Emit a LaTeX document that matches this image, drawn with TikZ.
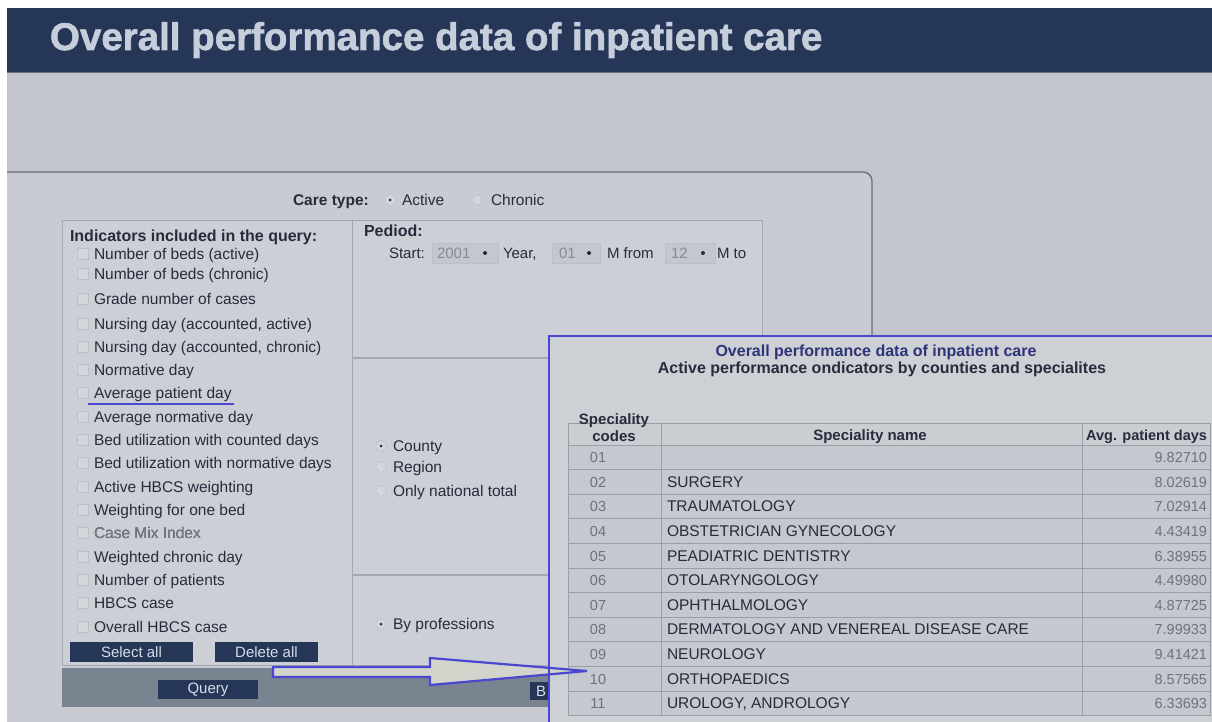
\documentclass[tikz,border=0pt]{standalone}
\usepackage{fontspec}
\setmainfont{Liberation Sans}
\newfontfamily\heavyfont[FakeBold=1.6]{Liberation Sans Bold}
\usetikzlibrary{calc}
\newcommand{\fsz}[1]{\fontsize{#1}{#1}\selectfont}
\definecolor{navy}{HTML}{253656}
\definecolor{titlefg}{HTML}{C6CDDB}
\definecolor{bggray}{HTML}{C2C5CC}
\definecolor{panelgray}{HTML}{C8CBD1}
\definecolor{boxgray}{HTML}{CCCFD5}
\definecolor{boxline}{HTML}{A4A8AF}
\definecolor{tablepanel}{HTML}{CDD0D4}
\definecolor{rowgray}{HTML}{C5C8CE}
\definecolor{headgray}{HTML}{CACDD2}
\definecolor{linegray}{HTML}{9A9EA6}
\definecolor{darkline}{HTML}{6A6F78}
\definecolor{txt}{HTML}{262C3C}
\definecolor{codegray}{HTML}{6C737E}
\definecolor{lighttxt}{HTML}{7A808A}
\definecolor{btnfg}{HTML}{D6DCE8}
\definecolor{barfill}{HTML}{7A8390}
\definecolor{hiblue}{HTML}{4A48D0}
\definecolor{arrowfill}{HTML}{D3D4CB}
\definecolor{ttlblue}{HTML}{2F3478}
\definecolor{chkfill}{HTML}{D3D5DA}
\definecolor{chkdraw}{HTML}{BCBFC5}
\definecolor{ddfill}{HTML}{C4C7CD}
\definecolor{ddtext}{HTML}{858B94}
\begin{document}
\begin{tikzpicture}[x=1pt,y=-1pt,
  every node/.style={inner sep=0pt,outer sep=0pt},
  body/.style={anchor=base west,text=txt,font=\fsz{15.5}},
  boldlbl/.style={anchor=base west,text=txt,font=\fsz{16}\bfseries},
  chk/.style={fill=chkfill,draw=chkdraw,line width=0.6pt},
  radio/.style={circle,fill=chkfill,draw=chkdraw,line width=0.6pt,minimum size=11pt},
  seldot/.style={circle,fill=txt,minimum size=4pt},
  btn/.style={fill=navy,text=btnfg,font=\fsz{15}},
  dd/.style={fill=ddfill,draw=chkdraw,line width=0.5pt},
  ddtxt/.style={anchor=base west,text=ddtext,font=\fsz{15}},
  grid/.style={draw=linegray,line width=0.8pt},
  code/.style={anchor=base,text=codegray,font=\fsz{14.5}},
  sname/.style={anchor=base west,text=txt,font=\fsz{15.5}},
  sval/.style={anchor=base east,text=codegray,font=\fsz{14.5}},
  thead/.style={text=txt,font=\fsz{15}\bfseries},
  bigarrow/.style={fill=arrowfill,draw=hiblue,line width=2.2pt,line join=miter},
]
\useasboundingbox (0,0) rectangle (1212,722);
\fill[white] (0,0) rectangle (1212,722);
% header
\fill[bggray] (7,72) rectangle (1212,722);
\fill[navy] (7,8) rectangle (1212,72);
\draw[darkline,line width=1pt] (7,72.5) -- (1212,72.5);
\node[anchor=base west,text=titlefg,font=\fsz{38.5}\heavyfont] (title) at (50,50) {Overall performance data of inpatient care};

% main form panel
\fill[panelgray] (7,172) [rounded corners=9] -- (872,172) [sharp corners] -- (872,722) -- (7,722) -- cycle;
\draw[darkline,line width=1.4pt] (7,172) [rounded corners=9] -- (872,172) [sharp corners] -- (872,722);

% care type
\node[boldlbl,font=\fsz{15.5}\bfseries] (caretype) at (293,205) {Care type:};
\node[radio] (rActive) at (390,200) {};
\node[seldot,minimum size=3pt] at (rActive) {};
\node[body] (active) at (402,205) {Active};
\node[radio] (rChronic) at (477,200) {};
\node[body] (chronic) at (491,205) {Chronic};

% indicator box and middle box
\draw[fill=boxgray,draw=boxline,line width=0.8pt] (62,220) rectangle (352,665);
\draw[fill=boxgray,draw=boxline,line width=0.8pt] (352,220) rectangle (762,665);
\draw[boxline,line width=1.2pt] (352,358) -- (762,358);
\draw[boxline,line width=1.2pt] (352,575) -- (762,575);

\node[boldlbl] (indhead) at (70,241) {Indicators included in the query:};
\foreach \t/\yy [count=\i] in {
  {Number of beds (active)}/254,
  {Number of beds (chronic)}/274,
  {Grade number of cases}/299,
  {Nursing day (accounted, active)}/324,
  {Nursing day (accounted, chronic)}/347,
  {Normative day}/370,
  {Average patient day}/393,
  {Average normative day}/417,
  {Bed utilization with counted days}/440,
  {Bed utilization with normative days}/463,
  {Active HBCS weighting}/487,
  {Weighting for one bed}/510,
  {Case Mix Index}/533,
  {Weighted chronic day}/557,
  {Number of patients}/580,
  {HBCS case}/603,
  {Overall HBCS case}/627}{
  \draw[chk] (77,\yy-5.5) rectangle (88,\yy+5.5);
  \node[body] (item\i) at (94,\yy+5.5) {\t};
}
\node[body,text=lighttxt] at (item13.base west) {Case Mix Index};
\draw[hiblue,line width=2pt] ($(item7.base west)+(-6,5)$) -- ($(item7.base east)+(2,5)$);

% buttons
\node[btn,minimum width=123pt,minimum height=20pt] (selall) at (131.5,652) {Select all};
\node[btn,minimum width=103pt,minimum height=20pt] (delall) at (266.5,652) {Delete all};

% period
\node[boldlbl] (period) at (364,236) {Pediod:};
\node[body,font=\fsz{15}] (start) at (389,258) {Start:};
\draw[dd] (432,243) rectangle (498,263);
\node[ddtxt] (yr) at (437,258) {2001};
\fill[txt] (485,253) circle (2pt);
\node[body,font=\fsz{15}] (year) at (503,258) {Year,};
\draw[dd] (552,243) rectangle (600,263);
\node[ddtxt] (mfrom) at (559,258) {01};
\fill[txt] (589,253) circle (2pt);
\node[body,font=\fsz{15}] (mfromlbl) at (607,258) {M from};
\draw[dd] (665,243) rectangle (715,263);
\node[ddtxt] (mto) at (671,258) {12};
\fill[txt] (703,253) circle (2pt);
\node[body,font=\fsz{15}] (mtolbl) at (717,258) {M to};

% grouping
\node[radio] (rCounty) at (381,446) {};
\node[seldot,minimum size=3pt] at (rCounty) {};
\node[body] (county) at (393,451.5) {County};
\node[radio] (rRegion) at (381,467) {};
\node[body] (region) at (393,472.5) {Region};
\node[radio] (rNat) at (381,491) {};
\node[body] (national) at (393,496.5) {Only national total};
\node[radio] (rProf) at (381,624) {};
\node[seldot,minimum size=3pt] at (rProf) {};
\node[body] (prof) at (393,629.5) {By professions};

% bottom bar
\fill[barfill] (62,668) rectangle (560,707);
\node[btn,minimum width=100pt,minimum height=19pt] (query) at (208,689.5) {Query};
\node[btn,minimum width=30pt,minimum height=18pt,text width=30pt,align=left] (bbtn) at (545,691) {\hspace{6pt}B};

% result table panel
\fill[tablepanel] (549,336) rectangle (1212,722);
\node[anchor=base,text=ttlblue,font=\fsz{16}\bfseries] (ttl1) at (876,356) {Overall performance data of inpatient care};
\node[anchor=base,text=txt,font=\fsz{16}\bfseries] (ttl2) at (882,373) {Active performance ondicators by counties and specialites};

\fill[headgray] (568,423) rectangle (1210,445);
\fill[rowgray] (568,445) rectangle (1210,715.6);
\foreach \k in {0,...,11} {
  \draw[grid] (568,445+\k*24.6) -- (1210,445+\k*24.6);
}
\draw[grid] (568,423) -- (1210,423);
\foreach \xx in {568,661,1082,1210} {
  \draw[grid] (\xx,423) -- (\xx,715.6);
}
\node[thead,anchor=base] (spc1) at (614,424) {Speciality};
\node[thead,anchor=base] (spc2) at (614,441) {codes};
\node[thead,anchor=base] (spname) at (870,440) {Speciality name};
\node[thead,anchor=base east,font=\fsz{14.5}\bfseries] (avg) at (1207,440) {Avg. patient days};

\foreach \c/\n/\v [count=\i] in {
  01/{}/9.82710,
  02/SURGERY/8.02619,
  03/TRAUMATOLOGY/7.02914,
  04/OBSTETRICIAN GYNECOLOGY/4.43419,
  05/PEADIATRIC DENTISTRY/6.38955,
  06/OTOLARYNGOLOGY/4.49980,
  07/OPHTHALMOLOGY/4.87725,
  08/DERMATOLOGY AND VENEREAL DISEASE CARE/7.99933,
  09/NEUROLOGY/9.41421,
  10/ORTHOPAEDICS/8.57565,
  11/{UROLOGY, ANDROLOGY}/6.33693}{
  \pgfmathsetmacro{\ry}{445+(\i-1)*24.6+12.3+5.3}
  \node[code] (code\i) at (598,\ry) {\c};
  \node[sname] (name\i) at (667,\ry) {\n};
  \node[sval] (val\i) at (1207,\ry) {\v};
}

% arrow connector
\coordinate (atail) at (273,672);
\coordinate (atip) at (587,671);
\draw[bigarrow] ($(atail)+(0,-5)$) -- ($(atail)+(157,-5)$) -- ($(atail)+(157,-14)$) -- (atip) -- ($(atail)+(157,13)$) -- ($(atail)+(157,5)$) -- ($(atail)+(0,5)$) -- cycle;

% table panel border
\draw[hiblue,line width=2.5pt] (549,722) -- (549,336) -- (1212,336);
\end{tikzpicture}
\end{document}
